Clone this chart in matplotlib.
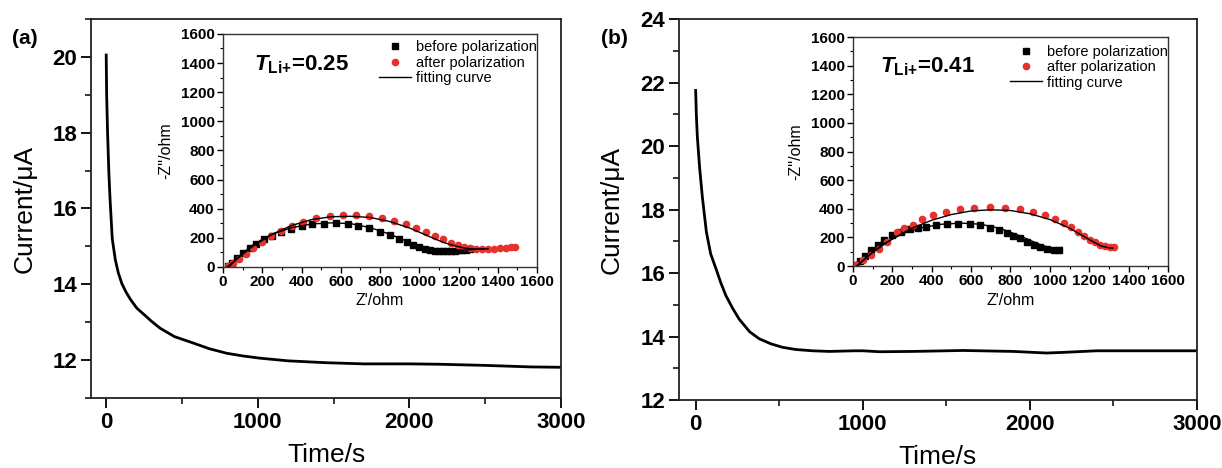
import numpy as np
import matplotlib
matplotlib.use('Agg')
import matplotlib.pyplot as plt
from matplotlib.ticker import MultipleLocator

plt.rcParams['font.family'] = ['Liberation Sans', 'DejaVu Sans']
plt.rcParams['mathtext.fontset'] = 'custom'
plt.rcParams['mathtext.rm'] = 'Liberation Sans'
plt.rcParams['mathtext.bf'] = 'Liberation Sans:bold'
plt.rcParams['mathtext.it'] = 'Liberation Sans:italic'
plt.rcParams['mathtext.bfit'] = 'Liberation Sans:bold:italic'

# chronoamperometry, panel (a)
t_a = [0, 3, 9, 18, 26, 40, 60, 80, 103, 130, 160, 202, 250, 300, 356, 450,
       574, 680, 795, 900, 1015, 1200, 1455, 1700, 2000, 2200, 2500, 2800, 3000]
i_a = [20.05, 19.0, 18.0, 16.9, 16.2, 15.2, 14.65, 14.3, 14.02, 13.8, 13.6,
       13.37, 13.2, 13.02, 12.84, 12.62, 12.45, 12.3, 12.18, 12.11, 12.05,
       11.98, 11.93, 11.9, 11.9, 11.89, 11.86, 11.82, 11.81]

# chronoamperometry, panel (b)
t_b = [0, 4, 10, 24, 40, 64, 90, 124, 150, 180, 220, 260, 323, 380, 450, 520,
       600, 700, 800, 950, 1000, 1100, 1300, 1600, 1700, 1900, 2100, 2200,
       2400, 2600, 3000]
i_b = [21.75, 21.0, 20.3, 19.3, 18.4, 17.3, 16.6, 16.1, 15.7, 15.3, 14.9,
       14.55, 14.15, 13.93, 13.77, 13.66, 13.59, 13.55, 13.53, 13.55, 13.55,
       13.52, 13.53, 13.56, 13.55, 13.53, 13.48, 13.5, 13.55, 13.55, 13.55]

# impedance, panel (a)
za_before_x = [25, 45, 70, 100, 135, 170, 210, 250, 295, 345, 400, 455, 515,
               575, 635, 690, 745, 800, 850, 895, 935, 970, 1000, 1030, 1055,
               1080, 1100, 1120, 1140, 1160, 1180, 1200, 1220, 1240, 1260]
za_before_y = [10, 30, 60, 95, 130, 160, 190, 215, 240, 262, 280, 292, 298,
               300, 295, 283, 265, 243, 218, 195, 172, 152, 137, 125, 116, 111,
               109, 108, 109, 110, 112, 114, 117, 119, 121]
za_after_x = [25, 50, 80, 115, 155, 200, 245, 295, 350, 410, 475, 545, 610,
              680, 745, 810, 870, 930, 985, 1035, 1080, 1120, 1160, 1195, 1230,
              1260, 1290, 1320, 1350, 1380, 1410, 1440, 1465, 1490]
za_after_y = [5, 25, 55, 90, 130, 170, 210, 245, 280, 310, 335, 350, 357, 357,
              350, 337, 318, 296, 270, 243, 215, 190, 168, 150, 137, 128, 124,
              123, 124, 126, 128, 131, 134, 137]
za_fit1_x = [30, 80, 150, 250, 350, 450, 550, 650, 750, 850, 950, 1050, 1100,
             1150, 1200, 1250, 1300, 1350]
za_fit1_y = [0, 70, 150, 225, 270, 295, 303, 298, 270, 225, 170, 125, 113, 110,
             113, 118, 122, 125]
za_fit2_x = [20, 80, 150, 250, 350, 450, 550, 650, 750, 850, 950, 1050, 1120,
             1180, 1230, 1280, 1330]
za_fit2_y = [0, 65, 140, 225, 285, 325, 345, 348, 340, 312, 268, 210, 170, 145,
             130, 124, 124]

# impedance, panel (b)
zb_before_x = [15, 35, 60, 90, 125, 158, 200, 245, 290, 330, 370, 424, 480,
               535, 594, 645, 696, 742, 781, 815, 849, 883, 917, 951, 985,
               1019, 1044]
zb_before_y = [10, 35, 70, 110, 150, 185, 215, 240, 258, 268, 272, 290, 295,
               295, 292, 285, 268, 250, 230, 212, 193, 170, 150, 130, 118, 112,
               112]
zb_after_x = [17, 51, 90, 130, 175, 224, 258, 306, 351, 407, 472, 543, 616,
              696, 772, 849, 913, 973, 1024, 1070, 1109, 1141, 1171, 1202, 1231,
              1256, 1282, 1304, 1324]
zb_after_y = [10, 40, 80, 120, 165, 240, 265, 290, 330, 355, 380, 398, 408,
              410, 405, 397, 377, 357, 330, 300, 270, 240, 210, 185, 165, 150,
              140, 135, 135]
zb_fit1_x = [20, 80, 150, 250, 350, 450, 550, 650, 750, 850, 950, 1000, 1030,
             1060]
zb_fit1_y = [0, 75, 150, 225, 268, 292, 300, 292, 262, 210, 150, 128, 124, 130]
zb_fit2_x = [20, 100, 200, 300, 400, 500, 600, 700, 800, 900, 1000, 1100, 1200,
             1260, 1300, 1320]
zb_fit2_y = [0, 95, 190, 265, 320, 360, 385, 393, 388, 365, 325, 265, 185, 140,
             127, 125]

fig = plt.figure(figsize=(12.22, 4.68), dpi=100)


def style_main(ax, ylim, ymajor):
    ax.set_xlim(-100, 3000)
    ax.set_ylim(*ylim)
    ax.xaxis.set_major_locator(MultipleLocator(1000))
    ax.xaxis.set_minor_locator(MultipleLocator(500))
    ax.yaxis.set_major_locator(MultipleLocator(ymajor))
    ax.yaxis.set_minor_locator(MultipleLocator(ymajor / 2))
    ax.tick_params(which='major', direction='out', length=7, width=1.3,
                   labelsize=16, pad=3)
    ax.tick_params(which='minor', direction='out', length=4, width=1.1)
    for lab in ax.get_xticklabels() + ax.get_yticklabels():
        lab.set_fontweight('bold')
    for s in ax.spines.values():
        s.set_linewidth(1.3)
        s.set_color('#222222')
    ax.set_xlabel('Time/s', fontsize=19, labelpad=7)
    ax.set_ylabel('Current/\u03bcA', fontsize=19)


def style_inset(ax):
    ax.set_xlim(0, 1600)
    ax.set_ylim(0, 1600)
    ax.xaxis.set_major_locator(MultipleLocator(200))
    ax.xaxis.set_minor_locator(MultipleLocator(100))
    ax.yaxis.set_major_locator(MultipleLocator(200))
    ax.yaxis.set_minor_locator(MultipleLocator(100))
    ax.tick_params(which='major', direction='out', length=4, width=1,
                   labelsize=11, pad=2)
    ax.tick_params(which='minor', direction='out', length=2, width=0.8)
    for lab in ax.get_xticklabels() + ax.get_yticklabels():
        lab.set_fontweight('bold')
    for s in ax.spines.values():
        s.set_linewidth(1.0)
        s.set_color('#333333')
    ax.set_xlabel("Z'/ohm", fontsize=11.5, labelpad=3)
    ax.set_ylabel("-Z''/ohm", fontsize=11.5, labelpad=5)


red = '#e8302c'

# panel (a)
ax1 = fig.add_axes([0.0745, 0.1496, 0.3846, 0.8098])
ax1.plot(t_a, i_a, color='black', lw=2)
style_main(ax1, (11, 21), 2)
ax1.yaxis.set_label_coords(-0.115, 0.5)

in1 = fig.add_axes([0.1825, 0.4295, 0.257, 0.498])
in1.plot(za_before_x, za_before_y, 's', color='black', ms=4, label='before polarization')
in1.plot(za_after_x, za_after_y, 'o', color=red, ms=4.5, label='after polarization')
in1.plot(za_fit1_x, za_fit1_y, '-', color='black', lw=1, label='fitting curve')
in1.plot(za_fit2_x, za_fit2_y, '-', color='black', lw=1)
style_inset(in1)
in1.legend(loc='upper right', bbox_to_anchor=(1.01, 0.985), frameon=False,
           fontsize=10.5, handlelength=2.2, handletextpad=0.35, labelspacing=0.1,
           borderpad=0.2, borderaxespad=0)
in1.text(0.10, 0.867, r'$\mathbfit{T}_{\mathbf{Li{+}}}$=0.25', transform=in1.transAxes,
         fontsize=16, fontweight='bold', va='center', ha='left')

# panel (b)
ax2 = fig.add_axes([0.5556, 0.1453, 0.4239, 0.814])
ax2.plot(t_b, i_b, color='black', lw=2)
style_main(ax2, (12, 24), 2)
ax2.yaxis.set_minor_locator(MultipleLocator(1))
ax2.yaxis.set_label_coords(-0.106, 0.5)

in2 = fig.add_axes([0.698, 0.4316, 0.2578, 0.489])
in2.plot(zb_before_x, zb_before_y, 's', color='black', ms=4, label='before polarization')
in2.plot(zb_after_x, zb_after_y, 'o', color=red, ms=4.5, label='after polarization')
in2.plot(zb_fit1_x, zb_fit1_y, '-', color='black', lw=1, label='fitting curve')
in2.plot(zb_fit2_x, zb_fit2_y, '-', color='black', lw=1)
style_inset(in2)
in2.legend(loc='upper right', bbox_to_anchor=(1.01, 0.98), frameon=False,
           fontsize=10.5, handlelength=2.2, handletextpad=0.35, labelspacing=0.1,
           borderpad=0.2, borderaxespad=0)
in2.text(0.086, 0.869, r'$\mathbfit{T}_{\mathbf{Li{+}}}$=0.41', transform=in2.transAxes,
         fontsize=16, fontweight='bold', va='center', ha='left')

fig.text(25 / 1222, 1 - 38 / 468, '(a)', fontsize=15, fontweight='bold',
         ha='center', va='center')
fig.text(614 / 1222, 1 - 38 / 468, '(b)', fontsize=15, fontweight='bold',
         ha='center', va='center')

fig.savefig('out.png', dpi=100)
